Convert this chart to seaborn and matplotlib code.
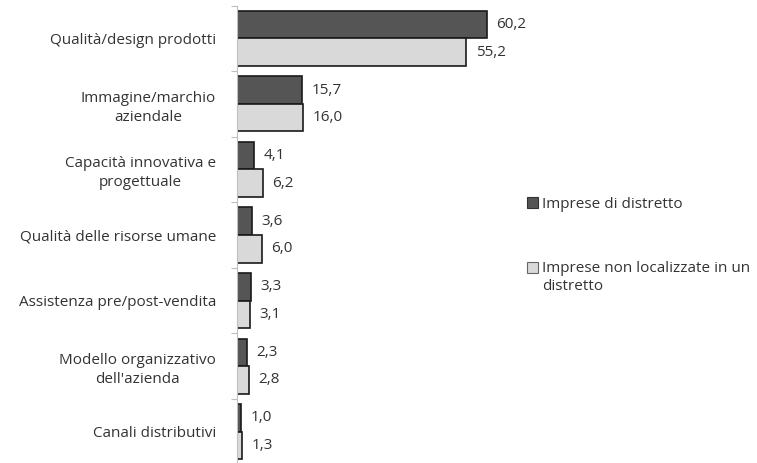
import matplotlib
matplotlib.use("Agg")
import matplotlib.pyplot as plt
from matplotlib.patches import Rectangle
from matplotlib.legend_handler import HandlerPatch
import seaborn as sns
import pandas as pd
import numpy as np

categories = [
    "Qualità/design prodotti",
    "Immagine/marchio\naziendale",
    "Capacità innovativa e\nprogettuale",
    "Qualità delle risorse umane",
    "Assistenza pre/post-vendita",
    "Modello organizzativo\ndell'azienda",
    "Canali distributivi",
]
series_names = ["Imprese di distretto", "Imprese non localizzate in un\ndistretto"]
distretto = [60.2, 15.7, 4.1, 3.6, 3.3, 2.3, 1.0]
non_distretto = [55.2, 16.0, 6.2, 6.0, 3.1, 2.8, 1.3]

df = pd.DataFrame({
    "categoria": categories * 2,
    "valore": distretto + non_distretto,
    "serie": [series_names[0]] * len(categories) + [series_names[1]] * len(categories),
})

sns.set_theme(style="white")
FONT = ["Open Sans", "DejaVu Sans"]
plt.rcParams["font.family"] = FONT
TXT = "#333333"
FS = 11

fig = plt.figure(figsize=(7.57, 4.63), dpi=100)
W, H = 757, 463
ax = fig.add_axes([237 / W, (H - 464.5) / H, 414.7 / W, 459 / H])

colors = ["#555555", "#d9d9d9"]
sns.barplot(data=df, x="valore", y="categoria", hue="serie", orient="h",
            palette=colors, width=0.84, edgecolor="#1a1a1a", linewidth=1.2,
            ax=ax, legend=False)

ax.set_xlim(0, 100)
ax.set_ylim(len(categories) - 0.5, -0.5)
ax.set_xlabel("")
ax.set_ylabel("")
ax.set_xticks([])
for s in ["top", "right", "bottom"]:
    ax.spines[s].set_visible(False)
ax.spines["left"].set_color("#bfbfbf")
ax.spines["left"].set_linewidth(0.8)
ax.tick_params(axis="y", which="major", length=0, pad=15, labelsize=FS, labelcolor=TXT)
ax.set_yticks(np.arange(len(categories) + 1) - 0.5, minor=True)
ax.tick_params(axis="y", which="minor", length=4, width=0.8, color="#bfbfbf", left=True)
for lab in ax.get_yticklabels():
    lab.set_multialignment("center")
    lab.set_linespacing(1.35)

for cont in ax.containers:
    vals = cont.datavalues
    ax.bar_label(cont, labels=[f"{v:.1f}".replace(".", ",") for v in vals],
                 padding=7, fontsize=FS, color=TXT)


class ShiftedHandler(HandlerPatch):
    def __init__(self, shift=0.0, **kw):
        super().__init__(**kw)
        self.shift = shift

    def create_artists(self, legend, orig_handle, xdescent, ydescent, width, height, fontsize, trans):
        size = 0.72 * fontsize
        p = Rectangle((-xdescent, -ydescent + (height - size) / 2 + self.shift * fontsize),
                      size, size, facecolor=orig_handle.get_facecolor(),
                      edgecolor=orig_handle.get_edgecolor(), linewidth=0.8)
        p.set_transform(trans)
        return [p]


h1 = Rectangle((0, 0), 1, 1, facecolor=colors[0], edgecolor="#333333")
h2 = Rectangle((0, 0), 1, 1, facecolor=colors[1], edgecolor="#666666")
leg = fig.legend([h1, h2], series_names, loc="upper left",
                 bbox_to_anchor=(513 / W, 1 - 183 / H), frameon=False,
                 fontsize=FS, labelspacing=3.2, handlelength=0.75, handletextpad=0.25,
                 handler_map={h1: ShiftedHandler(0.0), h2: ShiftedHandler(0.65)})
for t in leg.get_texts():
    t.set_color(TXT)
    t.set_linespacing(1.3)

fig.savefig("out.png", dpi=100)
